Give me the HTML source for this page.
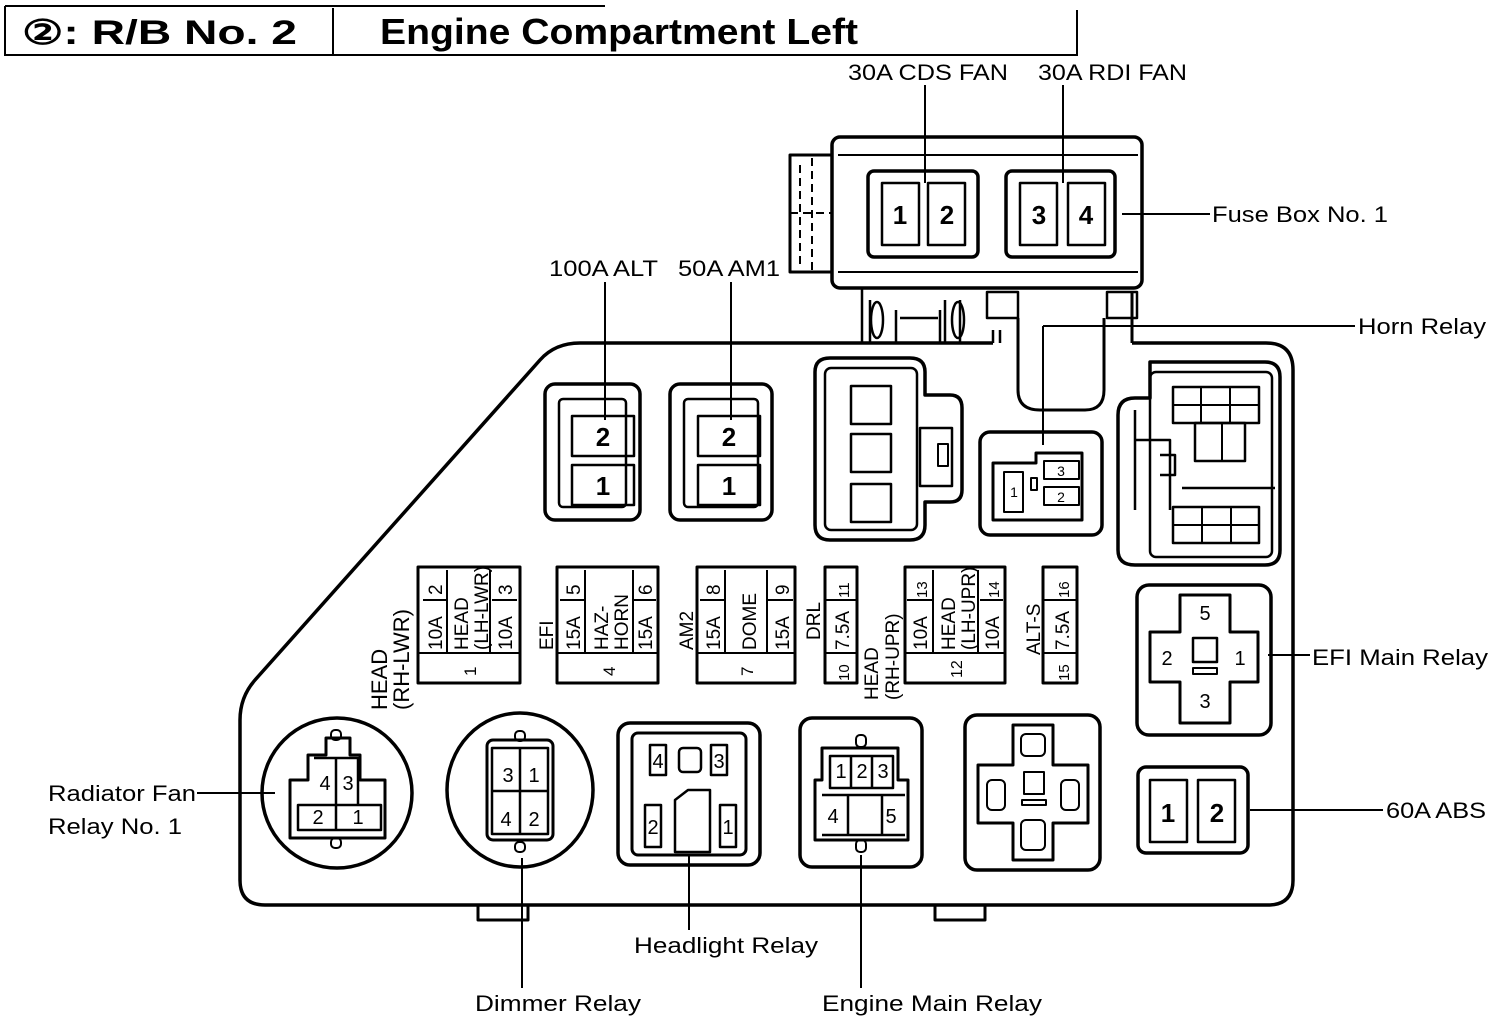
<!DOCTYPE html>
<html><head><meta charset="utf-8"><style>
html,body{margin:0;padding:0;background:#fff}
svg{display:block}
text{font-family:"Liberation Sans",sans-serif;fill:#000}
</style></head><body>
<svg width="1504" height="1022" viewBox="0 0 1504 1022" xmlns="http://www.w3.org/2000/svg">
<g fill="none" stroke="#000" stroke-width="2">
<path d="M5 6H605 M5 6V55H1077V10 M333 8V55"/>
</g>
<text x="22" y="44" font-size="34" font-weight="bold" textLength="275" lengthAdjust="spacingAndGlyphs">②:  R/B No. 2</text>
<text x="380" y="44" font-size="36" font-weight="bold" textLength="478" lengthAdjust="spacingAndGlyphs">Engine Compartment Left</text>

<g font-size="22">
<text x="848" y="80" textLength="160" lengthAdjust="spacingAndGlyphs">30A CDS FAN</text>
<text x="1038" y="80" textLength="149" lengthAdjust="spacingAndGlyphs">30A RDI FAN</text>
<text x="1212" y="222" textLength="176" lengthAdjust="spacingAndGlyphs">Fuse Box No. 1</text>
<text x="1358" y="334" textLength="128" lengthAdjust="spacingAndGlyphs">Horn Relay</text>
<text x="549" y="276" textLength="109" lengthAdjust="spacingAndGlyphs">100A ALT</text>
<text x="678" y="276" textLength="102" lengthAdjust="spacingAndGlyphs">50A AM1</text>
<text x="1312" y="665" textLength="176" lengthAdjust="spacingAndGlyphs">EFI Main Relay</text>
<text x="1386" y="818" textLength="100" lengthAdjust="spacingAndGlyphs">60A ABS</text>
<text x="48" y="801" textLength="148" lengthAdjust="spacingAndGlyphs">Radiator Fan</text>
<text x="48" y="834" textLength="134" lengthAdjust="spacingAndGlyphs">Relay No. 1</text>
<text x="475" y="1011" textLength="166" lengthAdjust="spacingAndGlyphs">Dimmer Relay</text>
<text x="634" y="953" textLength="184" lengthAdjust="spacingAndGlyphs">Headlight Relay</text>
<text x="822" y="1011" textLength="220" lengthAdjust="spacingAndGlyphs">Engine Main Relay</text>
</g>

<g fill="none" stroke="#000" stroke-width="2">
<path d="M925 85V183 M1063 85V183 M1122 214H1210 M1043 326H1355 M1043 326V445 M605 282V420 M731 282V420 M1268 655H1310 M1250 810H1383 M197 793H275 M522 858V988 M689 855V930 M861 855V988"/>
</g>

<g fill="none" stroke="#000" stroke-width="3.5" stroke-linejoin="round">
<path d="M993 343H580Q555 343 540 360L255 680Q240 697 240 720V880Q240 905 265 905H1268Q1293 905 1293 880V370Q1293 343 1266 343H1132"/>
<path d="M478 905V920H528V905 M935 905V920H985V905" stroke-width="3"/>
<rect x="832" y="137" width="310" height="151" rx="8"/>
<path d="M838 155H1138 M838 272H1138" stroke-width="2"/>
<rect x="790" y="155" width="42" height="117" stroke-width="3"/>
<path d="M812 158V270 M800 165V265 M790 213H832" stroke-width="2" stroke-dasharray="8 5"/>
<rect x="868" y="171" width="110" height="86" rx="6"/>
<rect x="882" y="183" width="37" height="62" stroke-width="2.5"/>
<rect x="928" y="183" width="37" height="62" stroke-width="2.5"/>
<rect x="1006" y="171" width="109" height="86" rx="6"/>
<rect x="1020" y="183" width="37" height="62" stroke-width="2.5"/>
<rect x="1068" y="183" width="37" height="62" stroke-width="2.5"/>
<path d="M862 288V343 M870 300V343 M896 310V343H940V310 M900 318H938 M945 343V300 M960 300V343 M993 343V330 M1000 330V343" stroke-width="2.5"/>
<ellipse cx="877" cy="320" rx="6" ry="18" stroke-width="2.5"/>
<ellipse cx="958" cy="320" rx="6" ry="18" stroke-width="2.5"/>
<rect x="987" y="292" width="31" height="26" stroke-width="2.5"/>
<rect x="1107" y="292" width="30" height="26" stroke-width="2.5"/>
<path d="M1132 292V343 M1018 318V390Q1018 410 1040 410H1085Q1104 410 1104 390V318" stroke-width="3"/>

<rect x="545" y="384" width="95" height="136" rx="10"/>
<rect x="559" y="399" width="67" height="108" rx="4" stroke-width="2.5"/>
<rect x="572" y="416" width="62" height="40" stroke-width="2.5"/>
<rect x="572" y="465" width="62" height="40" stroke-width="2.5"/>
<rect x="670" y="384" width="102" height="136" rx="10"/>
<rect x="684" y="399" width="74" height="108" rx="4" stroke-width="2.5"/>
<rect x="698" y="416" width="62" height="40" stroke-width="2.5"/>
<rect x="698" y="465" width="62" height="40" stroke-width="2.5"/>

<path d="M830 358H910Q925 358 925 372V395H950Q962 395 962 408V490Q962 502 950 502H925V525Q925 540 910 540H830Q815 540 815 525V372Q815 358 830 358Z"/>
<rect x="825" y="368" width="92" height="162" rx="6" stroke-width="2.5"/>
<rect x="851" y="386" width="40" height="38" stroke-width="2.5"/>
<rect x="851" y="434" width="40" height="38" stroke-width="2.5"/>
<rect x="851" y="484" width="40" height="38" stroke-width="2.5"/>
<rect x="920" y="428" width="32" height="58" stroke-width="2.5"/>
<rect x="938" y="444" width="10" height="22" stroke-width="2"/>

<rect x="980" y="432" width="122" height="103" rx="10"/>
<path d="M993 463V520H1082V453H1036V463Z" stroke-width="3"/>
<rect x="1004" y="472" width="19" height="40" stroke-width="2"/>
<rect x="1044" y="461" width="35" height="18" stroke-width="2"/>
<rect x="1044" y="487" width="35" height="18" stroke-width="2"/>
<rect x="1031" y="478" width="6" height="12" stroke-width="2"/>

<path d="M1150 362H1265Q1280 362 1280 377V550Q1280 565 1265 565H1135Q1118 565 1118 550V415Q1118 398 1135 398H1150Z"/>
<rect x="1150" y="372" width="122" height="185" rx="6" stroke-width="2.5"/>
<rect x="1173" y="387" width="86" height="36" stroke-width="2.5"/>
<path d="M1173 405H1259 M1201 387V423 M1230 387V423" stroke-width="2"/>
<rect x="1195" y="423" width="50" height="38" stroke-width="2.5"/>
<path d="M1222 423V461" stroke-width="2"/>
<path d="M1135 410V510 M1135 440H1170V510 M1160 455H1175V475H1160 M1182 488H1275" stroke-width="2.5"/>
<rect x="1173" y="507" width="86" height="36" stroke-width="2.5"/>
<path d="M1173 525H1259 M1202 507V543 M1231 507V543" stroke-width="2"/>

<rect x="1137" y="585" width="134" height="150" rx="12"/>
<path d="M1180 595H1230V632H1258V682H1230V723H1180V682H1150V632H1180Z" stroke-width="3"/>
<rect x="1193" y="638" width="24" height="24" stroke-width="2.5"/>
<rect x="1193" y="668" width="24" height="6" stroke-width="2"/>
<rect x="1138" y="767" width="110" height="86" rx="8"/>
<rect x="1150" y="780" width="37" height="62" stroke-width="2.5"/>
<rect x="1198" y="780" width="37" height="62" stroke-width="2.5"/>

<circle cx="337" cy="793" r="75"/>
<path d="M326 738H350V755H360V780H385V838H290V780H308V755H326Z" stroke-width="3"/>
<rect x="331" y="730" width="10" height="10" rx="4" stroke-width="2"/>
<rect x="331" y="838" width="10" height="10" rx="4" stroke-width="2"/>
<path d="M314 758H358V805 M336 758V830 M298 805H381V830H298Z" stroke-width="2.5"/>

<ellipse cx="520" cy="790" rx="73" ry="77"/>
<rect x="487" y="740" width="66" height="100" rx="6" stroke-width="3"/>
<rect x="492" y="748" width="56" height="86" stroke-width="2.5"/>
<path d="M520 748V834 M492 791H548" stroke-width="2.5"/>
<rect x="515" y="731" width="10" height="10" rx="4" stroke-width="2"/>
<rect x="515" y="842" width="10" height="10" rx="4" stroke-width="2"/>

<rect x="618" y="723" width="142" height="142" rx="12"/>
<rect x="632" y="733" width="114" height="122" rx="6" stroke-width="3"/>
<rect x="650" y="745" width="16" height="30" stroke-width="2.5"/>
<rect x="711" y="745" width="16" height="30" stroke-width="2.5"/>
<rect x="679" y="748" width="22" height="24" rx="4" stroke-width="2.5"/>
<rect x="645" y="805" width="16" height="42" stroke-width="2.5"/>
<rect x="720" y="805" width="16" height="42" stroke-width="2.5"/>
<path d="M675 852V800L688 790H710V852Z" stroke-width="2.5"/>

<rect x="800" y="718" width="122" height="149" rx="12"/>
<path d="M822 748H898V780H908V840H815V780H822Z" stroke-width="3"/>
<path d="M830 756H893V788H830Z M851 756V788 M872 756V788 M822 795H905 M848 795V835 M882 795V835 M822 835H905" stroke-width="2.5"/>
<rect x="856" y="735" width="10" height="12" rx="4" stroke-width="2"/>
<rect x="856" y="840" width="10" height="12" rx="4" stroke-width="2"/>

<rect x="965" y="715" width="135" height="155" rx="12"/>
<path d="M1013 725H1053V765H1088V823H1053V860H1013V823H978V765H1013Z" stroke-width="3"/>
<rect x="1021" y="734" width="24" height="22" rx="5" stroke-width="2"/>
<rect x="987" y="780" width="18" height="30" rx="5" stroke-width="2"/>
<rect x="1061" y="780" width="18" height="30" rx="5" stroke-width="2"/>
<rect x="1021" y="820" width="24" height="30" rx="5" stroke-width="2"/>
<rect x="1024" y="772" width="20" height="22" stroke-width="2"/>
<rect x="1022" y="800" width="24" height="5" stroke-width="2"/>

<g stroke-width="3">
<rect x="418" y="567" width="102" height="116"/>
<rect x="557" y="567" width="101" height="116"/>
<rect x="697" y="567" width="98" height="116"/>
<rect x="825" y="567" width="32" height="116"/>
<rect x="905" y="567" width="100" height="116"/>
<rect x="1043" y="567" width="34" height="116"/>
</g>
<g stroke-width="2">
<path d="M418 653H520 M447 570V653 M490 570V653 M423 600H447 M492 600H517"/>
<path d="M557 653H658 M585 570V653 M633 570V653 M560 600H585 M633 600H656"/>
<path d="M697 653H795 M725 570V653 M767 570V653 M700 600H725 M767 600H793"/>
<path d="M825 653H857 M825 600H857"/>
<path d="M905 653H1005 M933 570V653 M978 570V653 M907 600H933 M980 600H1003"/>
<path d="M1043 653H1077 M1043 600H1077"/>
</g>
</g>

<g font-size="26" text-anchor="middle" font-weight="bold">
<text x="900" y="224">1</text><text x="947" y="224">2</text>
<text x="1039" y="224">3</text><text x="1086" y="224">4</text>
<text x="603" y="446">2</text><text x="603" y="495">1</text>
<text x="729" y="446">2</text><text x="729" y="495">1</text>
<text x="1168" y="822">1</text><text x="1217" y="822">2</text>
</g>
<g font-size="20" text-anchor="middle">
<text x="1205" y="620">5</text><text x="1167" y="665">2</text><text x="1240" y="665">1</text><text x="1205" y="708">3</text>
<text x="325" y="790">4</text><text x="348" y="790">3</text><text x="318" y="824">2</text><text x="358" y="824">1</text>
<text x="508" y="782">3</text><text x="534" y="782">1</text><text x="506" y="826">4</text><text x="534" y="826">2</text>
<text x="658" y="768">4</text><text x="719" y="768">3</text><text x="653" y="834">2</text><text x="728" y="834">1</text>
<text x="841" y="778">1</text><text x="862" y="778">2</text><text x="883" y="778">3</text><text x="833" y="823">4</text><text x="891" y="823">5</text>
</g>
<g font-size="14" text-anchor="middle">
<text x="1014" y="497">1</text><text x="1061" y="476">3</text><text x="1061" y="502">2</text>
</g>

<g font-size="19">
<text transform="translate(387,710) rotate(-90)" font-size="22">HEAD</text>
<text transform="translate(409,710) rotate(-90)" font-size="22">(RH-LWR)</text>
<text transform="translate(442,650) rotate(-90)">10A</text>
<text transform="translate(442,595) rotate(-90)">2</text>
<text transform="translate(468,650) rotate(-90)">HEAD</text>
<text transform="translate(488,650) rotate(-90)">(LH-LWR)</text>
<text transform="translate(512,650) rotate(-90)">10A</text>
<text transform="translate(512,595) rotate(-90)">3</text>
<text transform="translate(476,676) rotate(-90)" font-size="17">1</text>
<text transform="translate(553,650) rotate(-90)">EFI</text>
<text transform="translate(580,650) rotate(-90)">15A</text>
<text transform="translate(580,595) rotate(-90)">5</text>
<text transform="translate(608,650) rotate(-90)">HAZ-</text>
<text transform="translate(628,650) rotate(-90)">HORN</text>
<text transform="translate(652,650) rotate(-90)">15A</text>
<text transform="translate(652,595) rotate(-90)">6</text>
<text transform="translate(615,676) rotate(-90)" font-size="17">4</text>
<text transform="translate(693,650) rotate(-90)">AM2</text>
<text transform="translate(720,650) rotate(-90)">15A</text>
<text transform="translate(720,595) rotate(-90)">8</text>
<text transform="translate(756,650) rotate(-90)">DOME</text>
<text transform="translate(789,650) rotate(-90)">15A</text>
<text transform="translate(789,595) rotate(-90)">9</text>
<text transform="translate(753,676) rotate(-90)" font-size="17">7</text>
<text transform="translate(820,640) rotate(-90)">DRL</text>
<text transform="translate(849,650) rotate(-90)">7.5A</text>
<text transform="translate(849,598) rotate(-90)" font-size="15">11</text>
<text transform="translate(849,681) rotate(-90)" font-size="15">10</text>
<text transform="translate(878,700) rotate(-90)">HEAD</text>
<text transform="translate(899,700) rotate(-90)">(RH-UPR)</text>
<text transform="translate(927,650) rotate(-90)">10A</text>
<text transform="translate(927,598) rotate(-90)" font-size="15">13</text>
<text transform="translate(955,650) rotate(-90)">HEAD</text>
<text transform="translate(975,650) rotate(-90)">(LH-UPR)</text>
<text transform="translate(999,650) rotate(-90)">10A</text>
<text transform="translate(999,598) rotate(-90)" font-size="15">14</text>
<text transform="translate(962,678) rotate(-90)" font-size="16">12</text>
<text transform="translate(1040,655) rotate(-90)">ALT-S</text>
<text transform="translate(1069,650) rotate(-90)">7.5A</text>
<text transform="translate(1069,598) rotate(-90)" font-size="15">16</text>
<text transform="translate(1069,681) rotate(-90)" font-size="15">15</text>
</g>
</svg>
</body></html>
